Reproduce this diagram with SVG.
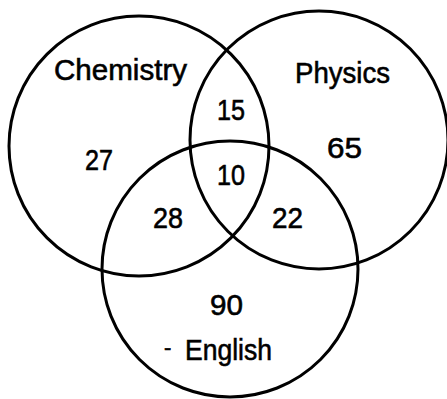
<svg xmlns="http://www.w3.org/2000/svg" width="447" height="399" viewBox="0 0 447 399">
<style>
.c{fill:none;stroke:#000;stroke-width:3}
.t{font-family:"Liberation Sans",Arial,sans-serif;fill:#000;stroke:#000;stroke-width:0.6}
.n{font-size:30px}
.l{font-size:30px}
</style>
<rect width="447" height="399" fill="#fff"/>
<g id="chemistry"><circle class="c" cx="139" cy="146" r="130"/><text class="t l" x="54" y="80" textLength="133" lengthAdjust="spacingAndGlyphs">Chemistry</text></g>
<g id="physics"><circle class="c" cx="319" cy="140" r="129"/><text class="t l" x="295" y="83" textLength="95" lengthAdjust="spacingAndGlyphs">Physics</text></g>
<g id="english"><circle class="c" cx="230" cy="269" r="128"/><text class="t l" x="185" y="360" textLength="87" lengthAdjust="spacingAndGlyphs">English</text><text class="t" x="164" y="355" font-size="22">-</text></g>
<g id="regions">
<text class="t n" x="85" y="170" textLength="28" lengthAdjust="spacingAndGlyphs">27</text>
<text class="t n" x="217" y="120" textLength="28" lengthAdjust="spacingAndGlyphs">15</text>
<text class="t n" x="327" y="158" textLength="35" lengthAdjust="spacingAndGlyphs">65</text>
<text class="t n" x="217" y="185" textLength="28" lengthAdjust="spacingAndGlyphs">10</text>
<text class="t n" x="153" y="228" textLength="30" lengthAdjust="spacingAndGlyphs">28</text>
<text class="t n" x="272" y="228" textLength="31" lengthAdjust="spacingAndGlyphs">22</text>
<text class="t n" x="210" y="315" textLength="33" lengthAdjust="spacingAndGlyphs">90</text>
</g>
<g id="connectors"></g>
</svg>
